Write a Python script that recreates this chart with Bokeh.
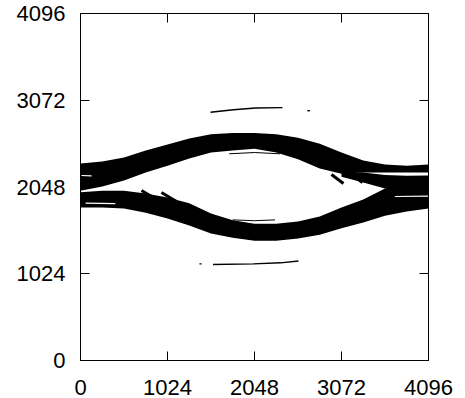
from bokeh.plotting import figure
from bokeh.models import Range1d, FixedTicker, LinearAxis
from bokeh.embed import file_html
from bokeh.resources import INLINE

# ---- data ----
ticks = [0, 1024, 2048, 3072, 4096]

x_grid = [0, 256, 512, 768, 1024, 1280, 1536, 1792, 2048,
          2304, 2560, 2816, 3072, 3328, 3584, 3840, 4096]

# upper arc band (top / bottom edge)
upper_top = [2325, 2350, 2395, 2480, 2550, 2620, 2670, 2685, 2685,
             2670, 2630, 2560, 2455, 2360, 2315, 2300, 2315]
upper_bot = [2005, 2055, 2125, 2220, 2300, 2385, 2455, 2480, 2500,
             2455, 2375, 2265, 2205, 2220, 2220, 2220, 2220]

# lower arc band (top / bottom edge)
lower_top = [1985, 2005, 2005, 1970, 1925, 1855, 1735, 1655, 1615,
             1615, 1640, 1700, 1805, 1900, 2030, 2100, 2160]
lower_bot = [1805, 1805, 1795, 1745, 1675, 1595, 1500, 1450, 1415,
             1415, 1440, 1485, 1560, 1630, 1710, 1760, 1795]

# traces crossing down at the right
cross_x = [3072, 3328, 3584, 3840, 4096]
cross_top = [2220, 2220, 2190, 2180, 2185]
cross_bot = [2170, 2100, 2030, 2005, 2005]

# isolated traces above and below the eye
stray_hi_x = [1530, 1800, 2060, 2378]
stray_hi_y = [2930, 2960, 2980, 2985]
dot_hi_x = [2670, 2700]
dot_hi_y = [2950, 2948]
stray_lo_x = [1560, 2036, 2354, 2566]
stray_lo_y = [1133, 1140, 1153, 1175]
dot_lo_x = [1400, 1425]
dot_lo_y = [1141, 1141]

# thin traces just inside the eye
inner_hi_x = [1750, 2048, 2350]
inner_hi_y = [2440, 2455, 2440]
inner_lo_x = [1790, 2048, 2290]
inner_lo_y = [1660, 1650, 1660]

# short diagonal strokes
seg_x0 = [718, 953, 2954, 3237]
seg_y0 = [2007, 1983, 2196, 2160]
seg_x1 = [836, 1130, 3095, 3319]
seg_y1 = [1936, 1877, 2089, 2101]

# white gaps inside the bands
gap_x0 = [60, 12, 3700]
gap_y0 = [1858, 2184, 1936]
gap_x1 = [410, 130, 4096]
gap_y1 = [1852, 2180, 1940]

FONT = "Liberation Sans"

p = figure(width=457, height=398,
           x_range=Range1d(0, 4096), y_range=Range1d(0, 4096),
           output_backend="svg", toolbar_location=None,
           min_border_left=80, min_border_right=29,
           min_border_top=13, min_border_bottom=38)
p.styles = {"margin-bottom": "-8px"}
p.xgrid.visible = False
p.ygrid.visible = False
p.outline_line_color = "black"
p.outline_line_width = 1
p.background_fill_color = "white"
p.border_fill_color = "white"

for ax in (p.xaxis[0], p.yaxis[0]):
    ax.ticker = FixedTicker(ticks=ticks)
    ax.major_tick_in = 9
    ax.major_tick_out = 0
    ax.minor_tick_line_color = None
    ax.major_tick_line_color = "black"
    ax.axis_line_color = "black"
    ax.major_label_text_font = FONT
    ax.major_label_text_font_size = "22px"
    ax.major_label_text_color = "black"
p.xaxis.major_label_standoff = 19
p.yaxis.major_label_standoff = 15

for loc in ("right", "above"):
    ax = LinearAxis(ticker=FixedTicker(ticks=ticks),
                    major_tick_in=9, major_tick_out=0,
                    minor_tick_line_color=None,
                    major_label_overrides={t: "" for t in ticks},
                    major_label_standoff=0,
                    axis_line_color="black", major_tick_line_color="black")
    p.add_layout(ax, loc)

# bands
p.varea(x=x_grid, y1=upper_bot, y2=upper_top, fill_color="black")
p.varea(x=x_grid, y1=lower_bot, y2=lower_top, fill_color="black")
p.varea(x=cross_x, y1=cross_bot, y2=cross_top, fill_color="black")

# white gaps
p.segment(x0=gap_x0, y0=gap_y0, x1=gap_x1, y1=gap_y1,
          line_color="white", line_width=1.2)

# strays
p.line(stray_hi_x, stray_hi_y, line_color="black", line_width=1.4)
p.line(dot_hi_x, dot_hi_y, line_color="black", line_width=1.4)
p.line(stray_lo_x, stray_lo_y, line_color="black", line_width=1.4)
p.line(dot_lo_x, dot_lo_y, line_color="black", line_width=1.4)
p.line(inner_hi_x, inner_hi_y, line_color="black", line_width=1)
p.line(inner_lo_x, inner_lo_y, line_color="black", line_width=1)
p.segment(x0=seg_x0, y0=seg_y0, x1=seg_x1, y1=seg_y1,
          line_color="black", line_width=3)

open("out.html", "w").write(file_html(p, INLINE))
